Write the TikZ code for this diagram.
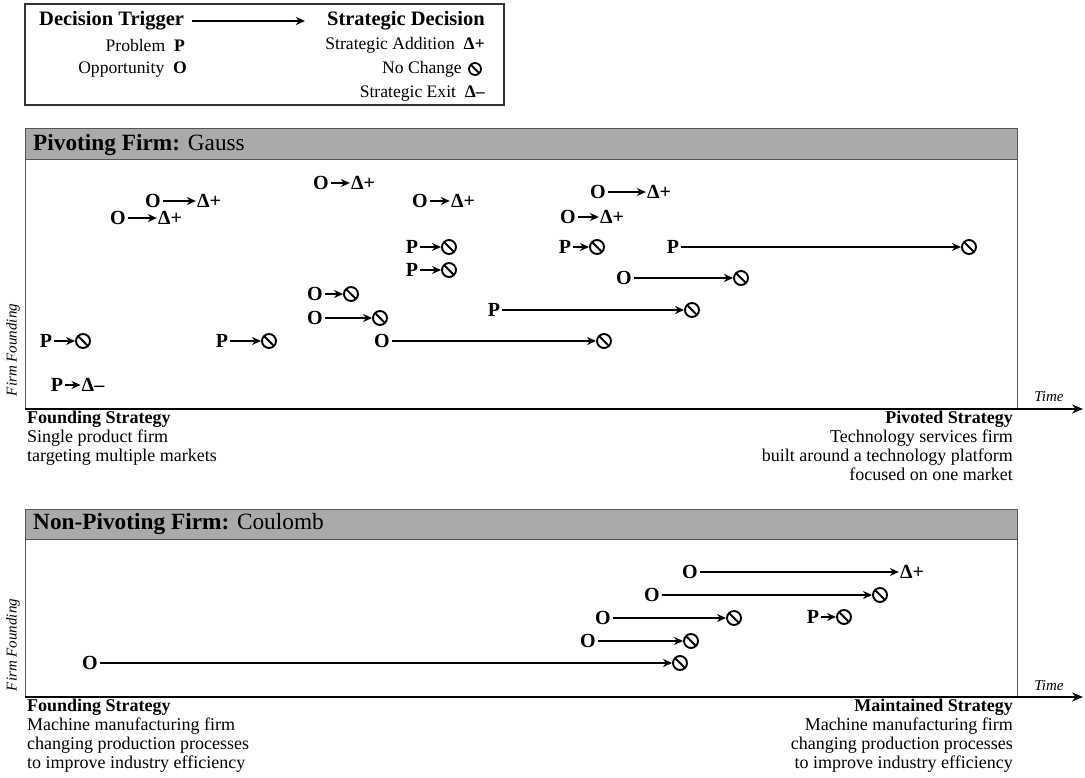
\documentclass[tikz,border=0pt]{standalone}
\usepackage{fontspec}
\setmainfont{Liberation Serif}
\usetikzlibrary{arrows.meta}
\definecolor{hdr}{RGB}{170,170,170}
\definecolor{frame}{RGB}{85,85,85}
\begin{document}
\begin{tikzpicture}[x=1pt,y=-1pt,
  txt/.style={font=\fontsize{18}{18.8}\selectfont, inner sep=0pt},
  ltxt/.style={font=\fontsize{17.6}{19}\selectfont, inner sep=0pt},
  hbold/.style={font=\fontsize{20.5}{22}\selectfont\bfseries, inner sep=0pt},
  htitle/.style={font=\fontsize{23.3}{25}\selectfont, inner sep=0pt, anchor=west},
  trig/.style={font=\fontsize{20}{22}\selectfont\bfseries, inner sep=2pt},
  dec/.style={font=\fontsize{20}{22}\selectfont\bfseries, inner sep=1pt},
  nochg/.style={circle, draw, line width=1.9pt, minimum size=14pt, inner sep=0pt,
    path picture={\draw[line width=1.9pt] (path picture bounding box.north west) -- (path picture bounding box.south east);}},
  evarrow/.style={line width=1.4pt, -{Stealth[length=9pt,width=8pt]}},
  axisarrow/.style={line width=1.5pt, -{Stealth[length=11pt,width=9pt]}},
  panel/.style={draw=frame, line width=1pt},
  header/.style={fill=hdr, draw=frame, line width=1pt},
  ital/.style={font=\fontsize{15}{17}\selectfont\itshape, inner sep=0pt},
]
\useasboundingbox (0,0) rectangle (1085,778);

% ---------------- Legend ----------------
\draw[line width=1.2pt, draw=black!80] (25,4) rectangle (504,105);
\node[hbold, anchor=west] (dt) at (39,21) {Decision Trigger};
\node[hbold, anchor=east] (sd) at (485,21) {Strategic Decision};
\draw[evarrow] ([xshift=8pt]dt.east) -- ([xshift=-22pt]sd.west);
\node[ltxt, anchor=east] (lp) at (185,45) {Problem\ \ \textbf{P}};
\node[ltxt, anchor=east] (lo) at (187,70) {Opportunity\ \ \textbf{O}};
\node[ltxt, anchor=east] (la) at (485,45) {Strategic Addition\ \ \textbf{Δ+}};
\node[nochg, minimum size=12pt, line width=1.7pt] (lns) at (475,69) {};
\node[ltxt, anchor=east] (ln) at (462,69) {No Change};
\node[ltxt, anchor=east] (le) at (485,94) {Strategic Exit\ \ \textbf{Δ–}};

% ---------------- Panel 1 ----------------
\draw[panel] (25,160) rectangle (1017,409);
\draw[header] (25,129) rectangle (1017,160);
\node[htitle] (h1) at (33,145) {\textbf{Pivoting Firm:} Gauss};
\coordinate (a1s) at (25,409);
\coordinate (a1e) at (1083,409);
\draw[axisarrow] (a1s) -- (a1e);
\node[ital] (tm1) at (1049,397) {Time};
\node[ital, rotate=90] (ff1) at (13,350) {Firm Founding};
\node[txt, anchor=north west, align=left] (fs1) at (27,411) {\textbf{Founding Strategy}\\Single product firm\\targeting multiple markets};
\node[txt, anchor=north east, align=right] (ps1) at (1013,411) {\textbf{Pivoted Strategy}\\Technology services firm\\built around a technology platform\\focused on one market};

% events
\node[trig] (e1a) at (153,201) {O}; \node[dec] (e1b) at (209,201) {Δ+}; \draw[evarrow] (e1a) -- (e1b);
\node[trig] (e2a) at (118,218) {O}; \node[dec] (e2b) at (170,218) {Δ+}; \draw[evarrow] (e2a) -- (e2b);
\node[trig] (e3a) at (321,183) {O}; \node[dec] (e3b) at (363,183) {Δ+}; \draw[evarrow] (e3a) -- (e3b);
\node[trig] (e4a) at (420,201) {O}; \node[dec] (e4b) at (463,201) {Δ+}; \draw[evarrow] (e4a) -- (e4b);
\node[trig] (e5a) at (412,247) {P}; \node[nochg] (e5b) at (449,247) {}; \draw[evarrow] (e5a) -- (e5b);
\node[trig] (e6a) at (412,270) {P}; \node[nochg] (e6b) at (449,270) {}; \draw[evarrow] (e6a) -- (e6b);
\node[trig] (e7a) at (315,294) {O}; \node[nochg] (e7b) at (351,294) {}; \draw[evarrow] (e7a) -- (e7b);
\node[trig] (e8a) at (315,318) {O}; \node[nochg] (e8b) at (380,318) {}; \draw[evarrow] (e8a) -- (e8b);
\node[trig] (e9a) at (46,341) {P}; \node[nochg] (e9b) at (83,341) {}; \draw[evarrow] (e9a) -- (e9b);
\node[trig] (e10a) at (222,341) {P}; \node[nochg] (e10b) at (269,341) {}; \draw[evarrow] (e10a) -- (e10b);
\node[trig] (e11a) at (382,341) {O}; \node[nochg] (e11b) at (604,341) {}; \draw[evarrow] (e11a) -- (e11b);
\node[trig] (e12a) at (494,310) {P}; \node[nochg] (e12b) at (692,310) {}; \draw[evarrow] (e12a) -- (e12b);
\node[trig] (e13a) at (57,385) {P}; \node[dec] (e13b) at (93,385) {Δ–}; \draw[evarrow] (e13a) -- (e13b);
\node[trig] (e14a) at (598,192) {O}; \node[dec] (e14b) at (659,192) {Δ+}; \draw[evarrow] (e14a) -- (e14b);
\node[trig] (e15a) at (568,217) {O}; \node[dec] (e15b) at (612,217) {Δ+}; \draw[evarrow] (e15a) -- (e15b);
\node[trig] (e16a) at (565,247) {P}; \node[nochg] (e16b) at (597,247) {}; \draw[evarrow] (e16a) -- (e16b);
\node[trig] (e17a) at (673,247) {P}; \node[nochg] (e17b) at (969,247) {}; \draw[evarrow] (e17a) -- (e17b);
\node[trig] (e18a) at (624,278) {O}; \node[nochg] (e18b) at (741,278) {}; \draw[evarrow] (e18a) -- (e18b);

% ---------------- Panel 2 ----------------
\draw[panel] (25,539) rectangle (1017,697);
\draw[header] (25,509) rectangle (1017,539);
\node[htitle] (h2) at (33,524) {\textbf{Non-Pivoting Firm:} Coulomb};
\coordinate (a2s) at (25,697);
\coordinate (a2e) at (1083,697);
\draw[axisarrow] (a2s) -- (a2e);
\node[ital] (tm2) at (1049,686) {Time};
\node[ital, rotate=90] (ff2) at (13,645) {Firm Founding};
\node[txt, anchor=north west, align=left] (fs2) at (27,699) {\textbf{Founding Strategy}\\Machine manufacturing firm\\changing production processes\\to improve industry efficiency};
\node[txt, anchor=north east, align=right] (ms2) at (1013,699) {\textbf{Maintained Strategy}\\Machine manufacturing firm\\changing production processes\\to improve industry efficiency};

\node[trig] (f1a) at (690,572) {O}; \node[dec] (f1b) at (912,572) {Δ+}; \draw[evarrow] (f1a) -- (f1b);
\node[trig] (f2a) at (652,595) {O}; \node[nochg] (f2b) at (880,595) {}; \draw[evarrow] (f2a) -- (f2b);
\node[trig] (f3a) at (603,618) {O}; \node[nochg] (f3b) at (734,618) {}; \draw[evarrow] (f3a) -- (f3b);
\node[trig] (f4a) at (813,617) {P}; \node[nochg] (f4b) at (844,617) {}; \draw[evarrow] (f4a) -- (f4b);
\node[trig] (f5a) at (588,641) {O}; \node[nochg] (f5b) at (691,641) {}; \draw[evarrow] (f5a) -- (f5b);
\node[trig] (f6a) at (90,663) {O}; \node[nochg] (f6b) at (680,663) {}; \draw[evarrow] (f6a) -- (f6b);
\end{tikzpicture}
\end{document}
